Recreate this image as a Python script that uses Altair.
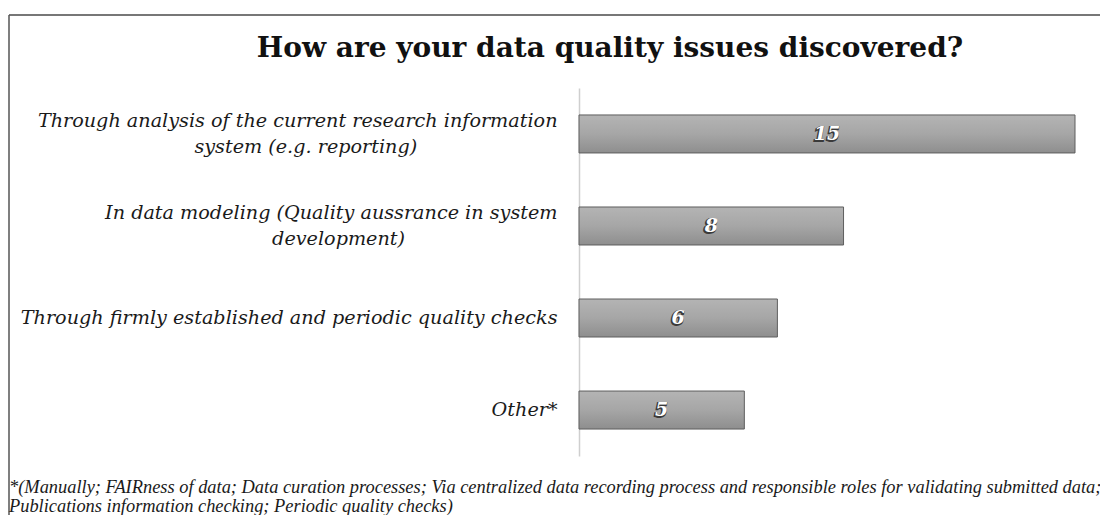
import altair as alt
import pandas as pd

NB = "\u00a0"
ZW = "\u200b"
categories = [
    "Through analysis of the current research information|system (e.g. reporting)" + NB * 23 + ZW,
    "In data modeling (Quality aussrance in system|development)" + NB * 25 + ZW,
    "Through firmly established and periodic quality checks",
    "Other*",
]
values = [15, 8, 6, 5]
title_text = "How are your data quality issues discovered?"
footnote_lines = [
    "*(Manually; FAIRness of data; Data curation processes; Via centralized data recording process and responsible roles for validating submitted data;",
    "Publications information checking; Periodic quality checks)",
]

df = pd.DataFrame({"cat": categories, "value": values})
order = categories

W, H = 496, 368

y_enc = alt.Y(
    "cat:N",
    sort=order,
    scale=alt.Scale(paddingInner=0.587, paddingOuter=0.293),
    axis=alt.Axis(
        title=None,
        ticks=False,
        grid=False,
        domainColor="#cfcfcf",
        domainWidth=1.5,
        labelFont="DejaVu Serif",
        labelFontStyle="italic",
        labelFontSize=19.2,
        labelColor="#1a1a1a",
        labelPadding=22,
        labelLimit=0,
        labelLineHeight=26,
        labelExpr="split(datum.label, '|')",
        labelOffset={"condition": {"test": "indexof(datum.label, '|') >= 0", "value": -13}, "value": 0},
    ),
)
x_scale = alt.Scale(domain=[0, 15], nice=False, zero=True)

base = alt.Chart(df)

bars = base.mark_bar(
    fill=alt.Gradient(
        gradient="linear",
        stops=[
            alt.GradientStop(offset=0, color="#b4b4b4"),
            alt.GradientStop(offset=0.5, color="#a6a6a6"),
            alt.GradientStop(offset=1, color="#8e8e8e"),
        ],
        x1=0, x2=0, y1=0, y2=1,
    ),
    stroke="#5e5e5e",
    strokeWidth=1,
).encode(
    y=y_enc,
    x=alt.X("value:Q", scale=x_scale, axis=None),
)

mid = base.transform_calculate(mid="datum.value / 2")

val_shadow = mid.mark_text(
    font="DejaVu Serif", fontStyle="italic", fontWeight="bold", fontSize=19,
    color="#3a3a3a", stroke="#3a3a3a", strokeWidth=1.8, dx=-0.8, dy=0.8, baseline="middle",
).encode(y=alt.Y("cat:N", sort=order), x=alt.X("mid:Q", scale=x_scale), text="value:Q")

val_text = mid.mark_text(
    font="DejaVu Serif", fontStyle="italic", fontWeight="bold", fontSize=19,
    color="#ffffff", baseline="middle",
).encode(y=alt.Y("cat:N", sort=order), x=alt.X("mid:Q", scale=x_scale), text="value:Q")

one = alt.Chart(pd.DataFrame({"a": [0]}))

frame_top = one.mark_rule(color="#777777", strokeWidth=2).encode(
    x=alt.value(-570), x2=alt.value(540), y=alt.value(-73)
)
frame_left = one.mark_rule(color="#555555", strokeWidth=1.5).encode(
    x=alt.value(-570), y=alt.value(-73), y2=alt.value(440)
)

title = alt.Chart(pd.DataFrame({"t": [title_text]})).mark_text(
    font="DejaVu Serif", fontSize=28, fontWeight="bold", color="#111111",
    align="center", baseline="alphabetic",
).encode(x=alt.value(31), y=alt.value(-31), text="t")

foot = alt.Chart(pd.DataFrame({"t": [footnote_lines]})).mark_text(
    font="Liberation Serif", fontStyle="italic", fontSize=18.4, color="#1a1a1a",
    align="left", baseline="alphabetic", lineHeight=19,
).encode(x=alt.value(-570), y=alt.value(405), text="t")

chart = alt.layer(frame_top, frame_left, title, bars, val_shadow, val_text, foot).properties(
    width=W,
    height=H,
    autosize=alt.AutoSizeParams(type="none"),
    padding={"left": 571, "top": 80, "right": 25, "bottom": 59},
).configure(background="#ffffff").configure_view(stroke="transparent", strokeWidth=0)

chart.save("out.html", embed_options={"renderer": "svg", "actions": False})
